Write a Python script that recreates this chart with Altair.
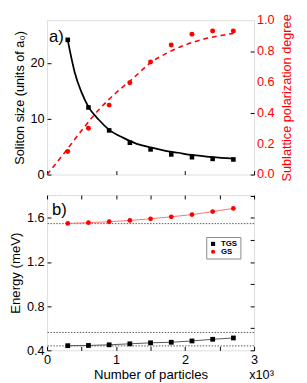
import altair as alt
import pandas as pd

# ---- data ----
n_particles = [0.3, 0.6, 0.9, 1.2, 1.5, 1.8, 2.1, 2.4, 2.7]  # x10^3
soliton_size = [24.1, 12.0, 7.9, 5.7, 4.5, 3.6, 3.1, 2.8, 2.7]
polarization = [0.15, 0.30, 0.45, 0.595, 0.73, 0.84, 0.91, 0.93, 0.93]

fit_size_x = [0.3, 0.35, 0.4, 0.5, 0.6, 0.75, 0.9, 1.1, 1.3, 1.5, 1.7, 1.9, 2.1, 2.4, 2.7]
fit_size_y = [24.0, 21.0, 18.3, 14.7, 12.1, 9.8, 8.0, 6.6, 5.5, 4.85, 4.3, 3.9, 3.5, 3.1, 2.85]

fit_pol_x = [0.0, 0.25, 0.5, 0.75, 1.0, 1.25, 1.5, 1.75, 2.0, 2.25, 2.5, 2.7]
fit_pol_y = [0.0, 0.14, 0.285, 0.42, 0.53, 0.625, 0.725, 0.79, 0.84, 0.875, 0.90, 0.915]

energy_tgs = [0.442, 0.444, 0.450, 0.459, 0.468, 0.473, 0.485, 0.500, 0.512]
energy_gs = [1.550, 1.557, 1.565, 1.577, 1.592, 1.610, 1.630, 1.657, 1.686]
ref_levels = [1.548, 0.562, 0.440]

series_names = ["TGS", "GS"]
x_ticks = [0, 0.5, 1, 1.5, 2, 2.5, 3]
e_ticks = [0.4, 0.6, 0.8, 1.0, 1.2, 1.4, 1.6, 1.8]
pol_ticks = [0, 0.1, 0.2, 0.3, 0.4, 0.5, 0.6, 0.7, 0.8, 0.9, 1.0]
pol_label_values = [0.0, 0.2, 0.4, 0.6, 0.8, 1.0]
pol_label_texts = ["0.0", "0.2", "0.4", "0.6", "0.8", "1.0"]
size_ticks = [0, 5, 10, 15, 20, 25]

FONT = "Liberation Sans"
W = 212

top_pts = pd.DataFrame({"n": n_particles, "size": soliton_size, "pol": polarization})
fit_size = pd.DataFrame({"n": fit_size_x, "size": fit_size_y})
fit_pol = pd.DataFrame({"n": fit_pol_x, "pol": fit_pol_y})
pol_lab_df = pd.DataFrame({"pol": pol_label_values, "lab": pol_label_texts})

bottom_pts = pd.DataFrame({
    "n": n_particles * 2,
    "E": energy_tgs + energy_gs,
    "series": [series_names[0]] * len(n_particles) + [series_names[1]] * len(n_particles),
})
refs = pd.DataFrame({"E": ref_levels})


def tick_axis(orient, values, labels=True, title=None, **kw):
    args = dict(orient=orient, values=values, labels=labels, domain=False, grid=False,
                ticks=True, tickSize=4, offset=-4, tickColor="black", tickWidth=1,
                labelFont=FONT, labelFontSize=13, labelColor="black", labelPadding=3,
                labelOverlap=False, labelBound=False, labelFlush=False,
                titleFont=FONT, titleFontSize=13.5, titleFontWeight="normal", titleColor="black",
                title=title)
    args.update(kw)
    return alt.Axis(**args)


xscale = alt.Scale(domain=[0, 3], nice=False, zero=False)

# ---------- top panel ----------
x_top = alt.X("n:Q", scale=xscale, axis=tick_axis("bottom", x_ticks, labels=False))
size_scale = alt.Scale(domain=[0, 27.6], nice=False)
pol_scale = alt.Scale(domain=[0, 1], nice=False)

left_axis = tick_axis("left", size_ticks, title="Soliton size (units of a₀)",
                      labelExpr="datum.value % 10 == 0 ? datum.label : ''", titlePadding=4,
                      titleFontSize=13)
right_axis = tick_axis("right", pol_ticks, labels=False, title="Sublattice polarization degree",
                       titleColor="red", titleAngle=270, titleBaseline="top",
                       titlePadding=27, titleFontSize=13)

size_line = alt.Chart(fit_size).mark_line(color="black", strokeWidth=1.8, interpolate="monotone").encode(
    x=x_top, y=alt.Y("size:Q", scale=size_scale, axis=left_axis))
size_pts = alt.Chart(top_pts).mark_point(shape="square", filled=True, color="black", size=22, opacity=1).encode(
    x=alt.X("n:Q", scale=xscale), y=alt.Y("size:Q", scale=size_scale))
left_layer = alt.layer(size_line, size_pts)

pol_line = alt.Chart(fit_pol).mark_line(color="red", strokeWidth=1.6, strokeDash=[5, 4], interpolate="monotone").encode(
    x=alt.X("n:Q", scale=xscale), y=alt.Y("pol:Q", scale=pol_scale, axis=right_axis))
pol_pts = alt.Chart(top_pts).mark_point(shape="circle", filled=True, color="red", size=26, opacity=1).encode(
    x=alt.X("n:Q", scale=xscale), y=alt.Y("pol:Q", scale=pol_scale))
pol_labels = alt.Chart(pol_lab_df).mark_text(
    font=FONT, fontSize=13, align="left", baseline="middle", color="red").encode(
    x=alt.value(W + 3), y=alt.Y("pol:Q", scale=pol_scale), text="lab:N")
right_layer = alt.layer(pol_line, pol_pts, pol_labels)

label_a = alt.Chart(pd.DataFrame({"t": ["a)"]})).mark_text(
    font=FONT, fontSize=17, align="left", baseline="alphabetic", color="black").encode(
    x=alt.value(2), y=alt.value(22), text="t:N")

top = alt.layer(left_layer, right_layer, label_a).resolve_scale(y="independent").properties(width=W, height=158)

# ---------- bottom panel ----------
e_scale = alt.Scale(domain=[0.4, 1.807], nice=False, zero=False)
x_bot_axis = tick_axis("bottom", x_ticks, title="Number of particles",
                       labelExpr="datum.value % 1 == 0 ? format(datum.value, 'd') : ''", titlePadding=2)
y_bot_axis = tick_axis("left", e_ticks, title="Energy (meV)",
                       labelExpr="round(datum.value*10) % 4 == 0 ? format(datum.value, '.1f') : ''",
                       titlePadding=4)

ref_rules = alt.Chart(refs).mark_rule(color="#555555", strokeWidth=1, strokeDash=[1.5, 1.5]).encode(
    y=alt.Y("E:Q", scale=e_scale, axis=y_bot_axis))

color_scale = alt.Scale(domain=series_names, range=["#555555", "#ff7070"])
lines = alt.Chart(bottom_pts).mark_line(strokeWidth=1).encode(
    x=alt.X("n:Q", scale=xscale, axis=x_bot_axis),
    y=alt.Y("E:Q", scale=e_scale),
    color=alt.Color("series:N", scale=color_scale, legend=None),
    detail="series:N")

main_bottom = alt.layer(ref_rules, lines)

pts = alt.Chart(bottom_pts).mark_point(filled=True, size=24, opacity=1).encode(
    x=alt.X("n:Q", scale=xscale, axis=tick_axis("top", x_ticks, labels=False)),
    y=alt.Y("E:Q", scale=e_scale, axis=tick_axis("right", e_ticks, labels=False)),
    fill=alt.Fill("series:N", scale=alt.Scale(domain=series_names, range=["black", "red"]),
                  legend=alt.Legend(title=None, orient="none", legendX=163, legendY=43,
                                    fillColor="white", strokeColor="#888888", padding=3,
                                    labelFont=FONT, labelFontSize=8, labelFontWeight="bold",
                                    symbolSize=18, rowPadding=0, symbolStrokeWidth=0,
                                    labelOffset=4)),
    shape=alt.Shape("series:N", scale=alt.Scale(domain=series_names, range=["square", "circle"])),
    stroke=alt.value(None))

label_b = alt.Chart(pd.DataFrame({"t": ["b)"]})).mark_text(
    font=FONT, fontSize=17, align="left", baseline="alphabetic", color="black").encode(
    x=alt.value(5), y=alt.value(20), text="t:N")

x10 = alt.Chart(pd.DataFrame({"t": ["x10³"]})).mark_text(
    font=FONT, fontSize=13, align="left", baseline="alphabetic", color="black").encode(
    x=alt.value(W - 5), y=alt.value(188), text="t:N")

bottom = alt.layer(main_bottom, pts, label_b, x10).resolve_scale(
    x="independent", y="independent").properties(width=W, height=159)

chart = alt.vconcat(top, bottom, spacing=12).resolve_legend(fill="independent", shape="independent").properties(
    padding={"left": 0, "top": 0, "right": 5, "bottom": 0}
).configure_view(stroke="black", strokeWidth=1.2).configure(font=FONT).configure_axis(labelOverlap=False)

chart.save("out.html", embed_options={"renderer": "svg", "actions": False})
